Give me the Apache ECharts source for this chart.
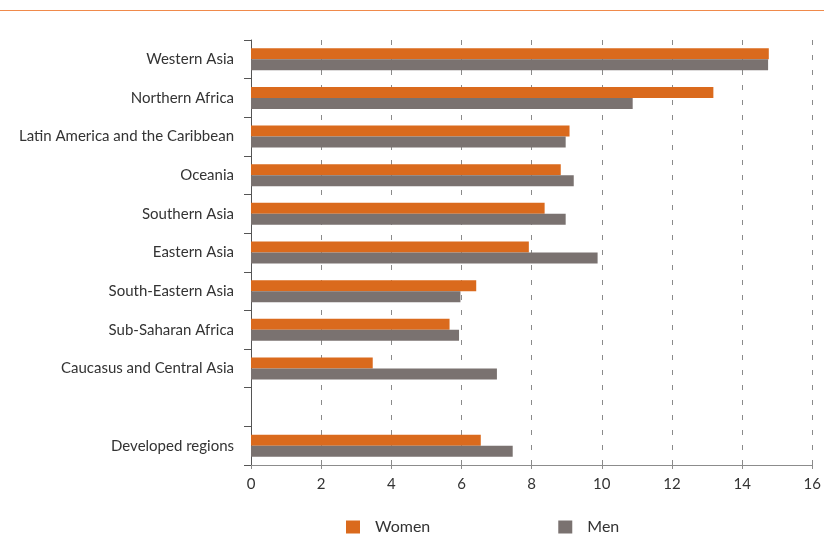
<!DOCTYPE html>
<html>
<head>
<meta charset="utf-8">
<script src="https://cdn.jsdelivr.net/npm/echarts@6/dist/echarts.min.js"></script>
<style>
html,body{margin:0;padding:0;background:#fff;}
#chart{width:824px;height:535px;}
</style>
</head>
<body>
<div id="chart"></div>
<script>
var categories = ['Western Asia','Northern Africa','Latin America and the Caribbean','Oceania','Southern Asia','Eastern Asia','South-Eastern Asia','Sub-Saharan Africa','Caucasus and Central Asia','','Developed regions'];
var women = [14.76, 13.18, 9.08, 8.83, 8.37, 7.92, 6.42, 5.66, 3.47, null, 6.55];
var men = [14.74, 10.88, 8.97, 9.20, 8.97, 9.88, 5.97, 5.93, 7.01, null, 7.46];
var xTicks = [0, 2, 4, 6, 8, 10, 12, 14, 16];

var FONT = 'Lato';
var chart = echarts.init(document.getElementById('chart'), null, {renderer:'canvas'});
chart.setOption({
  animation: false,
  textStyle: {fontFamily: FONT},
  grid: {left: 251, right: 9, top: 40, bottom: 70, containLabel: false},
  graphic: [{
    type: 'line', shape: {x1: 0, y1: 10.5, x2: 824, y2: 10.5},
    style: {stroke: '#f08a4b', lineWidth: 1.2}
  }],
  legend: {
    top: 519, left: 346, padding: 0, itemWidth: 14, itemHeight: 13, itemGap: 128,
    icon: 'rect',
    textStyle: {fontFamily: FONT, fontSize: 16, color: '#333', padding: [0,0,0,10]},
    data: ['Women', 'Men']
  },
  xAxis: {
    type: 'value', min: xTicks[0], max: xTicks[xTicks.length-1], interval: 2,
    axisLine: {show: true, lineStyle: {color: '#8c8c8c', width: 1}},
    axisTick: {show: true, length: 4, lineStyle: {color: '#8c8c8c'}},
    axisLabel: {fontFamily: FONT, fontSize: 15, color: '#333', margin: 12},
    splitLine: {show: true, lineStyle: {color: '#8a8a8a', type: [5, 10], width: 1}}
  },
  yAxis: {
    type: 'category', data: categories, inverse: true,
    axisLine: {show: true, lineStyle: {color: '#555', width: 1}},
    axisTick: {show: true, length: 7, lineStyle: {color: '#555'}},
    axisLabel: {fontFamily: FONT, fontSize: 15, color: '#333', margin: 17},
    splitLine: {show: false}
  },
  series: [
    {name: 'Women', type: 'bar', data: women, barWidth: 11, barGap: '0%',
     itemStyle: {color: '#da6a1d'}},
    {name: 'Men', type: 'bar', data: men, barWidth: 11, barGap: '0%',
     itemStyle: {color: '#7a7270'}}
  ]
});
</script>
</body>
</html>
